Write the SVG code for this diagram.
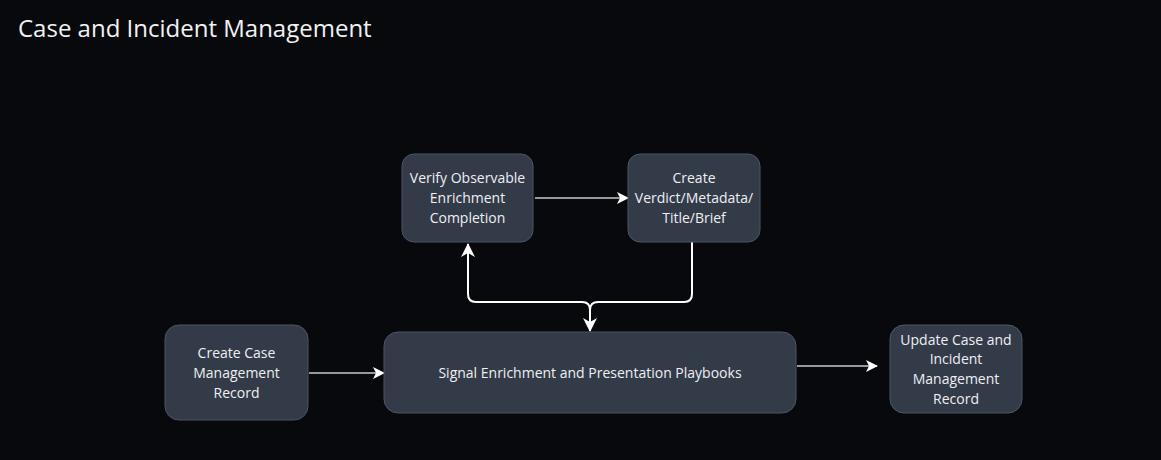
<svg xmlns="http://www.w3.org/2000/svg" width="1161" height="460" viewBox="0 0 1161 460">
<style>
.node rect{fill:#333a48;stroke:#4d5567;stroke-width:1}
.node text{font-family:"Open Sans","Noto Sans",sans-serif;font-size:14px;fill:#eef0f3;text-anchor:middle}
.thin{fill:none;stroke:#c8c8c8;stroke-width:1.3}
.thick{fill:none;stroke:#ffffff;stroke-width:2}
</style>
<defs>
<marker id="ah" viewBox="0 0 12 12" refX="11" refY="6" markerWidth="12" markerHeight="12" markerUnits="userSpaceOnUse" orient="auto">
<path d="M0,0 L12,6 L0,12 L3,6 Z" fill="#ffffff"/>
</marker>
<marker id="ahb" viewBox="0 0 14 14" refX="13" refY="7" markerWidth="14" markerHeight="14" markerUnits="userSpaceOnUse" orient="auto">
<path d="M0,0 L14,7 L0,14 L4,7 Z" fill="#ffffff"/>
</marker>
</defs>
<rect width="1161" height="460" fill="#08090d"/>
<text x="18" y="37" font-family="'Open Sans','Noto Sans',sans-serif" font-size="24" fill="#f2f2f2">Case and Incident Management</text>
<g id="connectors">
<path class="thin" d="M535,198 H628" marker-end="url(#ah)"/>
<path class="thin" d="M309,373 H384" marker-end="url(#ah)"/>
<path class="thin" d="M797,366 H877" marker-end="url(#ah)"/>
<path class="thick" d="M692,242 V294 Q692,302 684,302 H598 Q590,302 590,310 V331" marker-end="url(#ahb)"/>
<path class="thick" d="M590,310 Q590,302 582,302 H476 Q468,302 468,294 V244" marker-end="url(#ahb)"/>
</g>
<g id="verify" class="node">
<rect x="402" y="154" width="131" height="88" rx="12"/>
<text x="467.5" y="183">Verify Observable</text>
<text x="467.5" y="203">Enrichment</text>
<text x="467.5" y="223">Completion</text>
</g>
<g id="verdict" class="node">
<rect x="628" y="154" width="132" height="88" rx="12"/>
<text x="694" y="183">Create</text>
<text x="694" y="203">Verdict/Metadata/</text>
<text x="694" y="223">Title/Brief</text>
</g>
<g id="create-case" class="node">
<rect x="165" y="325" width="143" height="95" rx="14"/>
<text x="236.5" y="358">Create Case</text>
<text x="236.5" y="378">Management</text>
<text x="236.5" y="398">Record</text>
</g>
<g id="signal" class="node">
<rect x="384" y="332" width="412" height="81" rx="14"/>
<text x="590" y="378">Signal Enrichment and Presentation Playbooks</text>
</g>
<g id="update" class="node">
<rect x="890" y="325" width="132" height="88" rx="14"/>
<text x="956" y="345">Update Case and</text>
<text x="956" y="364">Incident</text>
<text x="956" y="384">Management</text>
<text x="956" y="404">Record</text>
</g>
</svg>
